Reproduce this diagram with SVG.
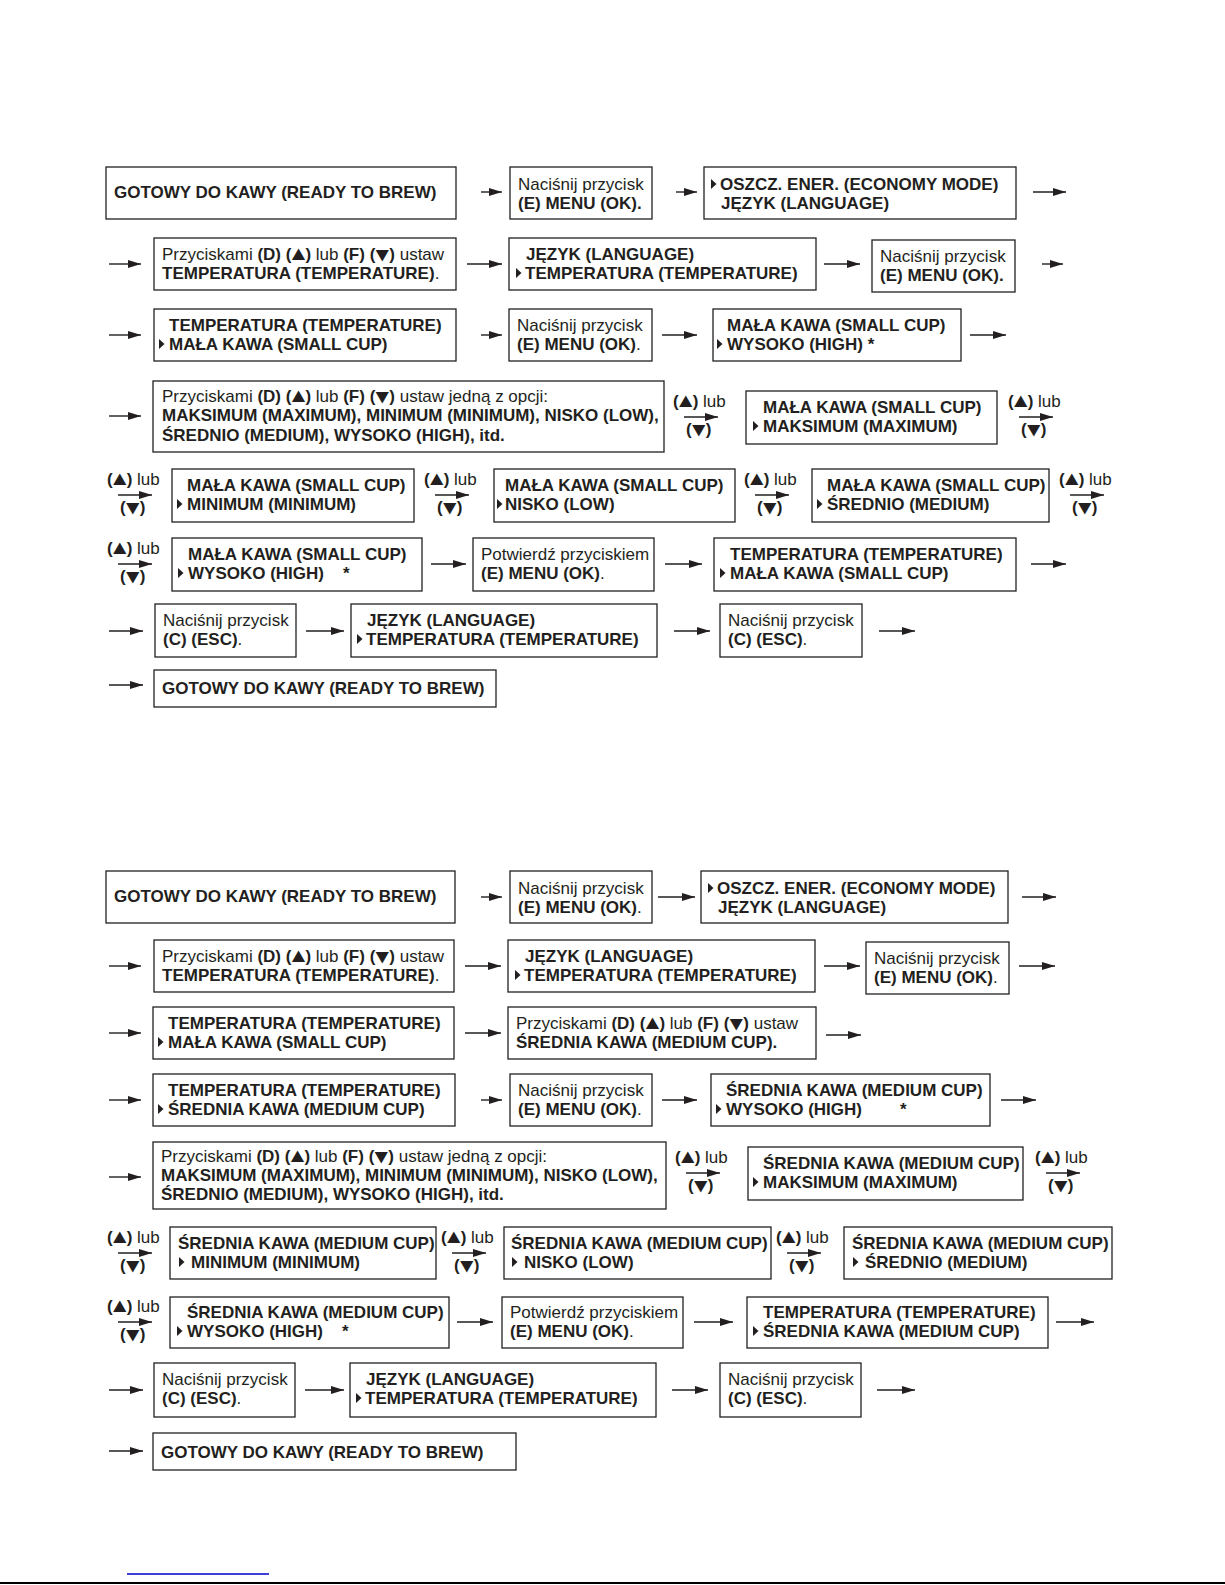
<svg xmlns="http://www.w3.org/2000/svg" xmlns:xlink="http://www.w3.org/1999/xlink" width="1225" height="1585" viewBox="0 0 1225 1585">
<style>
.box{fill:#fff;stroke:#231f20;stroke-width:1.3}
.t{font-family:"Liberation Sans",Arial,Helvetica,sans-serif;font-size:17px;fill:#231f20}
.b{font-weight:bold}
.g{font-family:"Noto Sans CJK SC","DejaVu Sans",sans-serif;font-size:14px;font-weight:normal}
.c{stroke:#231f20;stroke-width:1.4;fill:none;marker-end:url(#ah)}
.lb{font-family:"Liberation Sans",Arial,Helvetica,sans-serif;font-size:17px;fill:#231f20}
</style>
<defs>
<marker id="ah" markerWidth="13" markerHeight="9" refX="13" refY="4.5" orient="auto" markerUnits="userSpaceOnUse"><path d="M0,0.5 L13,4.5 L0,8.5 z" fill="#231f20"/></marker>
<path id="tri" d="M0,-5 L5.5,0 L0,5 z" fill="#231f20"/>
</defs>
<rect width="1225" height="1585" fill="#fff"/>

<g id="connectors">
<line class="c" x1="481" y1="192" x2="502" y2="192"/>
<line class="c" x1="676" y1="192" x2="697" y2="192"/>
<line class="c" x1="1033" y1="192" x2="1066" y2="192"/>
<line class="c" x1="109" y1="264" x2="141" y2="264"/>
<line class="c" x1="467" y1="264" x2="502" y2="264"/>
<line class="c" x1="824" y1="264" x2="860" y2="264"/>
<line class="c" x1="1042" y1="264" x2="1063" y2="264"/>
<line class="c" x1="109" y1="335" x2="141" y2="335"/>
<line class="c" x1="481" y1="335" x2="502" y2="335"/>
<line class="c" x1="662" y1="335" x2="697" y2="335"/>
<line class="c" x1="970" y1="335" x2="1006" y2="335"/>
<line class="c" x1="109" y1="416" x2="141" y2="416"/>
<line class="c" x1="684" y1="417" x2="718" y2="417"/>
<line class="c" x1="1019" y1="417" x2="1053" y2="417"/>
<line class="c" x1="118" y1="495" x2="152" y2="495"/>
<line class="c" x1="435" y1="495" x2="469" y2="495"/>
<line class="c" x1="755" y1="495" x2="789" y2="495"/>
<line class="c" x1="1070" y1="495" x2="1104" y2="495"/>
<line class="c" x1="118" y1="564" x2="152" y2="564"/>
<line class="c" x1="431" y1="564" x2="466" y2="564"/>
<line class="c" x1="665" y1="564" x2="702" y2="564"/>
<line class="c" x1="1031" y1="564" x2="1066" y2="564"/>
<line class="c" x1="109" y1="631" x2="143" y2="631"/>
<line class="c" x1="306" y1="631" x2="344" y2="631"/>
<line class="c" x1="674" y1="631" x2="710" y2="631"/>
<line class="c" x1="879" y1="631" x2="915" y2="631"/>
<line class="c" x1="109" y1="685" x2="143" y2="685"/>

<line class="c" x1="481" y1="897" x2="502" y2="897"/>
<line class="c" x1="658" y1="897" x2="695" y2="897"/>
<line class="c" x1="1022" y1="897" x2="1056" y2="897"/>
<line class="c" x1="109" y1="966" x2="141" y2="966"/>
<line class="c" x1="465" y1="966" x2="501" y2="966"/>
<line class="c" x1="824" y1="966" x2="860" y2="966"/>
<line class="c" x1="1019" y1="966" x2="1055" y2="966"/>
<line class="c" x1="109" y1="1033" x2="141" y2="1033"/>
<line class="c" x1="465" y1="1033" x2="501" y2="1033"/>
<line class="c" x1="826" y1="1035" x2="861" y2="1035"/>
<line class="c" x1="109" y1="1100" x2="141" y2="1100"/>
<line class="c" x1="481" y1="1100" x2="502" y2="1100"/>
<line class="c" x1="662" y1="1100" x2="697" y2="1100"/>
<line class="c" x1="1001" y1="1100" x2="1036" y2="1100"/>
<line class="c" x1="109" y1="1177" x2="141" y2="1177"/>
<line class="c" x1="686" y1="1173" x2="720" y2="1173"/>
<line class="c" x1="1046" y1="1173" x2="1080" y2="1173"/>
<line class="c" x1="118" y1="1253" x2="152" y2="1253"/>
<line class="c" x1="452" y1="1253" x2="486" y2="1253"/>
<line class="c" x1="787" y1="1253" x2="821" y2="1253"/>
<line class="c" x1="118" y1="1322" x2="152" y2="1322"/>
<line class="c" x1="457" y1="1322" x2="493" y2="1322"/>
<line class="c" x1="694" y1="1322" x2="733" y2="1322"/>
<line class="c" x1="1056" y1="1322" x2="1094" y2="1322"/>
<line class="c" x1="109" y1="1390" x2="143" y2="1390"/>
<line class="c" x1="305" y1="1390" x2="344" y2="1390"/>
<line class="c" x1="672" y1="1390" x2="708" y2="1390"/>
<line class="c" x1="877" y1="1390" x2="915" y2="1390"/>
<line class="c" x1="109" y1="1451" x2="143" y2="1451"/>
</g>

<g id="labels">
<text class="lb" x="673" y="407"><tspan class="b">(<tspan class="g">▲</tspan>)</tspan> lub</text><text class="lb b" x="686" y="435">(<tspan class="g">▼</tspan>)</text>
<text class="lb" x="1008" y="407"><tspan class="b">(<tspan class="g">▲</tspan>)</tspan> lub</text><text class="lb b" x="1021" y="435">(<tspan class="g">▼</tspan>)</text>
<text class="lb" x="107" y="485"><tspan class="b">(<tspan class="g">▲</tspan>)</tspan> lub</text><text class="lb b" x="120" y="513">(<tspan class="g">▼</tspan>)</text>
<text class="lb" x="424" y="485"><tspan class="b">(<tspan class="g">▲</tspan>)</tspan> lub</text><text class="lb b" x="437" y="513">(<tspan class="g">▼</tspan>)</text>
<text class="lb" x="744" y="485"><tspan class="b">(<tspan class="g">▲</tspan>)</tspan> lub</text><text class="lb b" x="757" y="513">(<tspan class="g">▼</tspan>)</text>
<text class="lb" x="1059" y="485"><tspan class="b">(<tspan class="g">▲</tspan>)</tspan> lub</text><text class="lb b" x="1072" y="513">(<tspan class="g">▼</tspan>)</text>
<text class="lb" x="107" y="554"><tspan class="b">(<tspan class="g">▲</tspan>)</tspan> lub</text><text class="lb b" x="120" y="582">(<tspan class="g">▼</tspan>)</text>
<text class="lb" x="675" y="1163"><tspan class="b">(<tspan class="g">▲</tspan>)</tspan> lub</text><text class="lb b" x="688" y="1191">(<tspan class="g">▼</tspan>)</text>
<text class="lb" x="1035" y="1163"><tspan class="b">(<tspan class="g">▲</tspan>)</tspan> lub</text><text class="lb b" x="1048" y="1191">(<tspan class="g">▼</tspan>)</text>
<text class="lb" x="107" y="1243"><tspan class="b">(<tspan class="g">▲</tspan>)</tspan> lub</text><text class="lb b" x="120" y="1271">(<tspan class="g">▼</tspan>)</text>
<text class="lb" x="441" y="1243"><tspan class="b">(<tspan class="g">▲</tspan>)</tspan> lub</text><text class="lb b" x="454" y="1271">(<tspan class="g">▼</tspan>)</text>
<text class="lb" x="776" y="1243"><tspan class="b">(<tspan class="g">▲</tspan>)</tspan> lub</text><text class="lb b" x="789" y="1271">(<tspan class="g">▼</tspan>)</text>
<text class="lb" x="107" y="1312"><tspan class="b">(<tspan class="g">▲</tspan>)</tspan> lub</text><text class="lb b" x="120" y="1340">(<tspan class="g">▼</tspan>)</text>
</g>

<!-- TOP SECTION -->
<g id="t1"><rect class="box" x="106" y="167" width="350" height="52"/><text class="t b" x="114" y="198">GOTOWY DO KAWY (READY TO BREW)</text></g>
<g id="t2"><rect class="box" x="510" y="167" width="142" height="52"/><text class="t" x="518" y="190">Naciśnij przycisk</text><text class="t b" x="518" y="209">(E) MENU (OK).</text></g>
<g id="t3"><rect class="box" x="704" y="167" width="312" height="52"/><use href="#tri" x="711" y="184"/><text class="t b" x="720" y="190">OSZCZ. ENER. (ECONOMY MODE)</text><text class="t b" x="721" y="209">JĘZYK (LANGUAGE)</text></g>

<g id="t4"><rect class="box" x="154" y="238" width="302" height="52"/><text class="t" x="162" y="260">Przyciskami <tspan class="b">(D) (<tspan class="g">▲</tspan>)</tspan> lub <tspan class="b">(F) (<tspan class="g">▼</tspan>)</tspan> ustaw</text><text class="t" x="162" y="279"><tspan class="b">TEMPERATURA (TEMPERATURE)</tspan>.</text></g>
<g id="t5"><rect class="box" x="509" y="238" width="307" height="52"/><text class="t b" x="526" y="260">JĘZYK (LANGUAGE)</text><use href="#tri" x="516" y="273"/><text class="t b" x="525" y="279">TEMPERATURA (TEMPERATURE)</text></g>
<g id="t6"><rect class="box" x="872" y="240" width="143" height="52"/><text class="t" x="880" y="262">Naciśnij przycisk</text><text class="t b" x="880" y="281">(E) MENU (OK).</text></g>

<g id="t7"><rect class="box" x="154" y="309" width="302" height="52"/><text class="t b" x="169" y="331">TEMPERATURA (TEMPERATURE)</text><use href="#tri" x="159" y="344"/><text class="t b" x="169" y="350">MAŁA KAWA (SMALL CUP)</text></g>
<g id="t8"><rect class="box" x="509" y="309" width="143" height="52"/><text class="t" x="517" y="331">Naciśnij przycisk</text><text class="t" x="517" y="350"><tspan class="b">(E) MENU (OK)</tspan>.</text></g>
<g id="t9"><rect class="box" x="713" y="309" width="248" height="52"/><text class="t b" x="727" y="331">MAŁA KAWA (SMALL CUP)</text><use href="#tri" x="717" y="344"/><text class="t b" x="727" y="350">WYSOKO (HIGH) *</text></g>

<g id="t10"><rect class="box" x="153" y="381" width="511" height="71"/><text class="t" x="162" y="402">Przyciskami <tspan class="b">(D) (<tspan class="g">▲</tspan>)</tspan> lub <tspan class="b">(F) (<tspan class="g">▼</tspan>)</tspan> ustaw jedną z opcji:</text><text class="t b" x="162" y="421">MAKSIMUM (MAXIMUM), MINIMUM (MINIMUM), NISKO (LOW),</text><text class="t b" x="162" y="441">ŚREDNIO (MEDIUM), WYSOKO (HIGH), itd.</text></g>
<g id="t11"><rect class="box" x="746" y="391" width="251" height="53"/><text class="t b" x="763" y="413">MAŁA KAWA (SMALL CUP)</text><use href="#tri" x="753" y="426"/><text class="t b" x="763" y="432">MAKSIMUM (MAXIMUM)</text></g>

<g id="t12"><rect class="box" x="172" y="469" width="242" height="53"/><text class="t b" x="187" y="491">MAŁA KAWA (SMALL CUP)</text><use href="#tri" x="177" y="504"/><text class="t b" x="187" y="510">MINIMUM (MINIMUM)</text></g>
<g id="t13"><rect class="box" x="494" y="469" width="241" height="53"/><text class="t b" x="505" y="491">MAŁA KAWA (SMALL CUP)</text><use href="#tri" x="497" y="504"/><text class="t b" x="505" y="510">NISKO (LOW)</text></g>
<g id="t14"><rect class="box" x="812" y="469" width="237" height="53"/><text class="t b" x="827" y="491">MAŁA KAWA (SMALL CUP)</text><use href="#tri" x="817" y="504"/><text class="t b" x="827" y="510">ŚREDNIO (MEDIUM)</text></g>

<g id="t15"><rect class="box" x="172" y="538" width="250" height="53"/><text class="t b" x="188" y="560">MAŁA KAWA (SMALL CUP)</text><use href="#tri" x="178" y="573"/><text class="t b" x="188" y="579">WYSOKO (HIGH)</text><text class="t b" x="343" y="579">*</text></g>
<g id="t16"><rect class="box" x="473" y="538" width="181" height="53"/><text class="t" x="481" y="560">Potwierdź przyciskiem</text><text class="t" x="481" y="579"><tspan class="b">(E) MENU (OK)</tspan>.</text></g>
<g id="t17"><rect class="box" x="714" y="538" width="302" height="53"/><text class="t b" x="730" y="560">TEMPERATURA (TEMPERATURE)</text><use href="#tri" x="720" y="573"/><text class="t b" x="730" y="579">MAŁA KAWA (SMALL CUP)</text></g>

<g id="t18"><rect class="box" x="155" y="604" width="141" height="53"/><text class="t" x="163" y="626">Naciśnij przycisk</text><text class="t" x="163" y="645"><tspan class="b">(C) (ESC)</tspan>.</text></g>
<g id="t19"><rect class="box" x="351" y="604" width="306" height="53"/><text class="t b" x="367" y="626">JĘZYK (LANGUAGE)</text><use href="#tri" x="357" y="639"/><text class="t b" x="366" y="645">TEMPERATURA (TEMPERATURE)</text></g>
<g id="t20"><rect class="box" x="720" y="604" width="142" height="53"/><text class="t" x="728" y="626">Naciśnij przycisk</text><text class="t" x="728" y="645"><tspan class="b">(C) (ESC)</tspan>.</text></g>

<g id="t21"><rect class="box" x="154" y="670" width="342" height="37"/><text class="t b" x="162" y="694">GOTOWY DO KAWY (READY TO BREW)</text></g>

<!-- BOTTOM SECTION -->
<g id="b1"><rect class="box" x="106" y="871" width="349" height="52"/><text class="t b" x="114" y="902">GOTOWY DO KAWY (READY TO BREW)</text></g>
<g id="b2"><rect class="box" x="510" y="871" width="142" height="52"/><text class="t" x="518" y="894">Naciśnij przycisk</text><text class="t" x="518" y="913"><tspan class="b">(E) MENU (OK)</tspan>.</text></g>
<g id="b3"><rect class="box" x="701" y="871" width="307" height="52"/><use href="#tri" x="708" y="888"/><text class="t b" x="717" y="894">OSZCZ. ENER. (ECONOMY MODE)</text><text class="t b" x="718" y="913">JĘZYK (LANGUAGE)</text></g>

<g id="b4"><rect class="box" x="154" y="940" width="300" height="52"/><text class="t" x="162" y="962">Przyciskami <tspan class="b">(D) (<tspan class="g">▲</tspan>)</tspan> lub <tspan class="b">(F) (<tspan class="g">▼</tspan>)</tspan> ustaw</text><text class="t" x="162" y="981"><tspan class="b">TEMPERATURA (TEMPERATURE)</tspan>.</text></g>
<g id="b5"><rect class="box" x="508" y="940" width="307" height="52"/><text class="t b" x="525" y="962">JĘZYK (LANGUAGE)</text><use href="#tri" x="515" y="975"/><text class="t b" x="524" y="981">TEMPERATURA (TEMPERATURE)</text></g>
<g id="b6"><rect class="box" x="866" y="942" width="143" height="52"/><text class="t" x="874" y="964">Naciśnij przycisk</text><text class="t" x="874" y="983"><tspan class="b">(E) MENU (OK)</tspan>.</text></g>

<g id="b7"><rect class="box" x="153" y="1007" width="301" height="52"/><text class="t b" x="168" y="1029">TEMPERATURA (TEMPERATURE)</text><use href="#tri" x="158" y="1042"/><text class="t b" x="168" y="1048">MAŁA KAWA (SMALL CUP)</text></g>
<g id="b8"><rect class="box" x="508" y="1007" width="308" height="52"/><text class="t" x="516" y="1029">Przyciskami <tspan class="b">(D) (<tspan class="g">▲</tspan>)</tspan> lub <tspan class="b">(F) (<tspan class="g">▼</tspan>)</tspan> ustaw</text><text class="t b" x="516" y="1048">ŚREDNIA KAWA (MEDIUM CUP).</text></g>

<g id="b9"><rect class="box" x="153" y="1074" width="302" height="52"/><text class="t b" x="168" y="1096">TEMPERATURA (TEMPERATURE)</text><use href="#tri" x="158" y="1109"/><text class="t b" x="168" y="1115">ŚREDNIA KAWA (MEDIUM CUP)</text></g>
<g id="b10"><rect class="box" x="510" y="1074" width="142" height="52"/><text class="t" x="518" y="1096">Naciśnij przycisk</text><text class="t" x="518" y="1115"><tspan class="b">(E) MENU (OK)</tspan>.</text></g>
<g id="b11"><rect class="box" x="711" y="1074" width="279" height="52"/><text class="t b" x="726" y="1096">ŚREDNIA KAWA (MEDIUM CUP)</text><use href="#tri" x="716" y="1109"/><text class="t b" x="726" y="1115">WYSOKO (HIGH)</text><text class="t b" x="900" y="1115">*</text></g>

<g id="b12"><rect class="box" x="153" y="1142" width="513" height="67"/><text class="t" x="161" y="1162">Przyciskami <tspan class="b">(D) (<tspan class="g">▲</tspan>)</tspan> lub <tspan class="b">(F) (<tspan class="g">▼</tspan>)</tspan> ustaw jedną z opcji:</text><text class="t b" x="161" y="1181">MAKSIMUM (MAXIMUM), MINIMUM (MINIMUM), NISKO (LOW),</text><text class="t b" x="161" y="1200">ŚREDNIO (MEDIUM), WYSOKO (HIGH), itd.</text></g>
<g id="b13"><rect class="box" x="748" y="1147" width="275" height="53"/><text class="t b" x="763" y="1169">ŚREDNIA KAWA (MEDIUM CUP)</text><use href="#tri" x="753" y="1182"/><text class="t b" x="763" y="1188">MAKSIMUM (MAXIMUM)</text></g>

<g id="b14"><rect class="box" x="170" y="1227" width="266" height="52"/><text class="t b" x="178" y="1249">ŚREDNIA KAWA (MEDIUM CUP)</text><use href="#tri" x="179" y="1262"/><text class="t b" x="191" y="1268">MINIMUM (MINIMUM)</text></g>
<g id="b15"><rect class="box" x="504" y="1227" width="267" height="52"/><text class="t b" x="511" y="1249">ŚREDNIA KAWA (MEDIUM CUP)</text><use href="#tri" x="512" y="1262"/><text class="t b" x="524" y="1268">NISKO (LOW)</text></g>
<g id="b16"><rect class="box" x="844" y="1227" width="268" height="52"/><text class="t b" x="852" y="1249">ŚREDNIA KAWA (MEDIUM CUP)</text><use href="#tri" x="853" y="1262"/><text class="t b" x="865" y="1268">ŚREDNIO (MEDIUM)</text></g>

<g id="b17"><rect class="box" x="170" y="1297" width="279" height="51"/><text class="t b" x="187" y="1318">ŚREDNIA KAWA (MEDIUM CUP)</text><use href="#tri" x="177" y="1331"/><text class="t b" x="187" y="1337">WYSOKO (HIGH)</text><text class="t b" x="342" y="1337">*</text></g>
<g id="b18"><rect class="box" x="502" y="1297" width="181" height="51"/><text class="t" x="510" y="1318">Potwierdź przyciskiem</text><text class="t" x="510" y="1337"><tspan class="b">(E) MENU (OK)</tspan>.</text></g>
<g id="b19"><rect class="box" x="747" y="1297" width="301" height="51"/><text class="t b" x="763" y="1318">TEMPERATURA (TEMPERATURE)</text><use href="#tri" x="753" y="1331"/><text class="t b" x="763" y="1337">ŚREDNIA KAWA (MEDIUM CUP)</text></g>

<g id="b20"><rect class="box" x="154" y="1363" width="141" height="54"/><text class="t" x="162" y="1385">Naciśnij przycisk</text><text class="t" x="162" y="1404"><tspan class="b">(C) (ESC)</tspan>.</text></g>
<g id="b21"><rect class="box" x="350" y="1363" width="306" height="54"/><text class="t b" x="366" y="1385">JĘZYK (LANGUAGE)</text><use href="#tri" x="356" y="1398"/><text class="t b" x="365" y="1404">TEMPERATURA (TEMPERATURE)</text></g>
<g id="b22"><rect class="box" x="720" y="1363" width="141" height="54"/><text class="t" x="728" y="1385">Naciśnij przycisk</text><text class="t" x="728" y="1404"><tspan class="b">(C) (ESC)</tspan>.</text></g>

<g id="b23"><rect class="box" x="153" y="1433" width="363" height="37"/><text class="t b" x="161" y="1458">GOTOWY DO KAWY (READY TO BREW)</text></g>

<g id="footer">
<line x1="127" y1="1574" x2="269" y2="1574" stroke="#0000cc" stroke-width="1.3"/>
<line x1="0" y1="1583" x2="1225" y2="1583" stroke="#000" stroke-width="2"/>
</g>
</svg>
